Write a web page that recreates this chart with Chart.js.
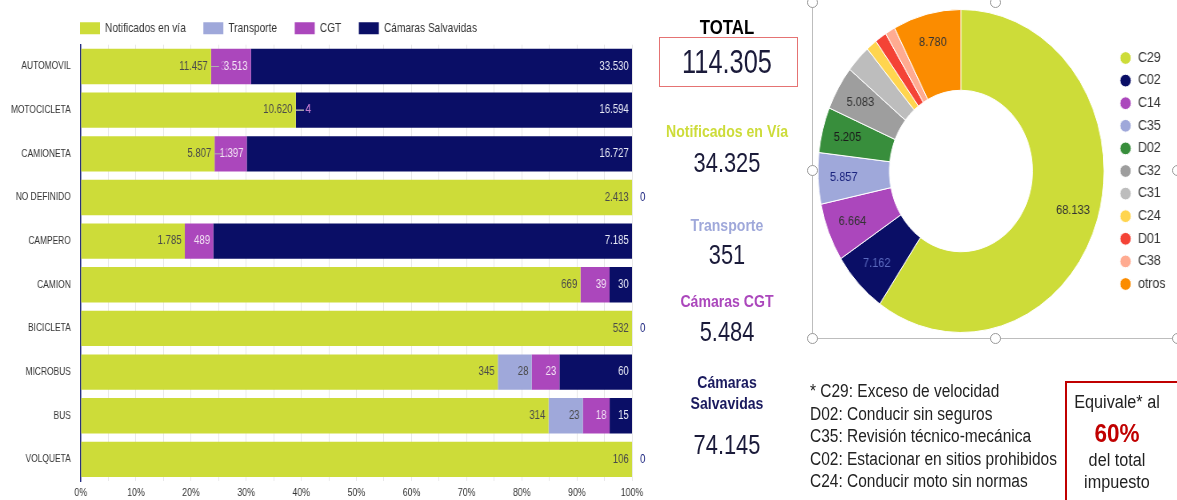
<!DOCTYPE html>
<html>
<head>
<meta charset="utf-8">
<script src="https://cdn.jsdelivr.net/npm/chart.js@4.4.1/dist/chart.umd.min.js"></script>
<style>
  body { margin: 0; width: 1177px; height: 500px; overflow: hidden; background: #fff; position: relative;
         font-family: "Liberation Sans", Arial, sans-serif; }
  #barWrap { position: absolute; left: 0; top: 0; width: 812px; height: 500px; transform: scaleX(0.8); transform-origin: 0 0; }
  #donutWrap { position: absolute; left: 808px; top: 0; width: 420px; height: 345px; transform: scaleX(0.886); transform-origin: 0 0; }
  .mid { position: absolute; left: 627px; width: 200px; text-align: center; white-space: nowrap; }
  .lbl { font-size: 16px; font-weight: bold; line-height: 18px; transform: scaleX(0.88); }
  .num { font-size: 28px; line-height: 32px; color: #1b1b3a; transform: scaleX(0.78); }
  .frame { position: absolute; background: #bdbdbd; }
  .handle { position: absolute; width: 9px; height: 9px; border: 1px solid #999; border-radius: 50%; background: #fff; }
  #notes { position: absolute; left: 810px; top: 380px; font-size: 18px; line-height: 22.5px; color: #222;
           transform: scaleX(0.86); transform-origin: 0 0; white-space: nowrap; }
  #equiv { position: absolute; left: 1065px; top: 381px; width: 120px; height: 130px; box-sizing: border-box;
           border: 2px solid #c00000; }
  .eq { position: absolute; left: 1057px; width: 120px; text-align: center; font-size: 18px; line-height: 22px;
        color: #222; transform: scaleX(0.9); white-space: nowrap; }
</style>
</head>
<body>
<div id="barWrap"><canvas id="cBar" width="812" height="500"></canvas></div>

<div class="mid" style="top:15px;font-size:21px;font-weight:bold;line-height:24px;transform:scaleX(0.8);color:#000">TOTAL</div>
<div style="position:absolute;left:659px;top:37px;width:139px;height:50px;box-sizing:border-box;border:1px solid #e57373"></div>
<div class="mid" style="top:43px;font-size:33px;line-height:38px;color:#1b1b3a;transform:scaleX(0.77)">114.305</div>
<div class="mid lbl" style="top:123px;color:#cddc39">Notificados en Vía</div>
<div class="mid num" style="top:147px">34.325</div>
<div class="mid lbl" style="top:217px;color:#9fa8da">Transporte</div>
<div class="mid num" style="top:239px">351</div>
<div class="mid lbl" style="top:293px;color:#ab47bc">Cámaras CGT</div>
<div class="mid num" style="top:316px">5.484</div>
<div class="mid lbl" style="top:372px;line-height:21px;color:#1a1a5e">Cámaras<br>Salvavidas</div>
<div class="mid num" style="top:429px">74.145</div>

<div class="frame" style="left:812px;top:0;width:1px;height:339px"></div>
<div class="frame" style="left:812px;top:338px;width:365px;height:1px"></div>
<div id="donutWrap"><canvas id="cDonut" width="420" height="345"></canvas></div>
<div class="handle" style="left:807px;top:-3px"></div>
<div class="handle" style="left:990px;top:-3px"></div>
<div class="handle" style="left:807px;top:165px"></div>
<div class="handle" style="left:1172px;top:165px"></div>
<div class="handle" style="left:807px;top:333px"></div>
<div class="handle" style="left:990px;top:333px"></div>
<div class="handle" style="left:1172px;top:333px"></div>

<div id="notes">* C29: Exceso de velocidad<br>D02: Conducir sin seguros<br>C35: Revisión técnico-mecánica<br>C02: Estacionar en sitios prohibidos<br>C24: Conducir moto sin normas</div>
<div id="equiv"></div>
<div class="eq" style="top:391px">Equivale* al</div>
<div class="eq" style="top:418px;font-size:25px;line-height:30px;font-weight:bold;color:#c00000">60%</div>
<div class="eq" style="top:449px">del total</div>
<div class="eq" style="top:471px">impuesto</div>

<script>
// ---- bar chart data (counts per vehicle type) ----
const categories = ['AUTOMOVIL', 'MOTOCICLETA', 'CAMIONETA', 'NO DEFINIDO', 'CAMPERO', 'CAMION', 'BICICLETA', 'MICROBUS', 'BUS', 'VOLQUETA'];
const notificados = [11457, 10620, 5807, 2413, 1785, 669, 532, 345, 314, 106];
const transporte = [3, 4, 1, 0, 0, 0, 0, 28, 23, 0];
const cgt = [3513, 4, 1397, 0, 489, 39, 0, 23, 18, 0];
const salvavidas = [33530, 16594, 16727, 0, 7185, 30, 0, 60, 15, 0];
const seriesNames = ['Notificados en vía', 'Transporte', 'CGT', 'Cámaras Salvavidas'];

// ---- doughnut data (infractions by code) ----
const codes = ['C29', 'C02', 'C14', 'C35', 'D02', 'C32', 'C31', 'C24', 'D01', 'C38', 'otros'];
const codeValues = [68133, 7162, 6664, 5857, 5205, 5083, 3221, 1400, 1500, 1300, 8780];

const FONT = '"Liberation Sans", Arial, sans-serif';
const seriesColors = ['#cddc39', '#9fa8da', '#ab47bc', '#0a0e66'];
const labelColors = ['#4a4a4a', '#4a4a4a', '#f3e5f5', '#e8eaf6'];
const codeColors = ['#cddc39', '#0a0e66', '#ab47bc', '#9fa8da', '#388e3c', '#9e9e9e', '#bdbdbd', '#ffd54f', '#f44336', '#ffab91', '#fb8c00'];
const codeLabelColors = ['#333', '#5c6bc0', '#333', '#1a237e', '#1b1b1b', '#333', '#333', '#333', '#333', '#333', '#333'];

const fmt = v => String(v).replace(/\B(?=(\d{3})+(?!\d))/g, '.');

// ===== stacked 100% bars =====
const series = [notificados, transporte, cgt, salvavidas];
const rowTotals = categories.map((_, i) => series.reduce((s, arr) => s + arr[i], 0));

const barLabels = {
    id: 'barLabels',
    afterLayout(chart) {
        // legend starts at the plot's left edge, not the canvas edge
        chart.legend.left += 78;
        chart.legend.right += 78;
    },
    afterDatasetsDraw(chart) {
        const ctx = chart.ctx;
        ctx.save();
        ctx.font = '12px ' + FONT;
        ctx.textBaseline = 'middle';
        const n = chart.data.datasets.length;
        chart.data.datasets.forEach((ds, di) => {
            chart.getDatasetMeta(di).data.forEach((bar, i) => {
                const v = ds.counts[i];
                const txt = fmt(v);
                const w = ctx.measureText(txt).width;
                if (v === 0) {
                    if (di !== n - 1) return;
                    ctx.fillStyle = '#1a237e';
                    ctx.textAlign = 'left';
                    ctx.fillText(txt, bar.x + 10, bar.y);
                    return;
                }
                if (bar.x - bar.base >= w + 8) {
                    ctx.fillStyle = labelColors[di];
                    ctx.textAlign = 'right';
                    ctx.fillText(txt, bar.x - 4, bar.y);
                } else {
                    // tiny segment: short leader line and label beside it
                    ctx.strokeStyle = '#b0b0b0';
                    ctx.lineWidth = 1;
                    ctx.beginPath();
                    ctx.moveTo(bar.x, bar.y);
                    ctx.lineTo(bar.x + 10, bar.y);
                    ctx.stroke();
                    ctx.fillStyle = '#c27bd0';
                    ctx.textAlign = 'left';
                    ctx.fillText(txt, bar.x + 12, bar.y);
                }
            });
        });
        ctx.restore();
    }
};

new Chart(document.getElementById('cBar').getContext('2d'), {
    type: 'bar',
    data: {
        labels: categories,
        datasets: series.map((arr, di) => ({
            label: seriesNames[di],
            data: arr.map((v, i) => v / rowTotals[i] * 100),
            counts: arr,
            backgroundColor: seriesColors[di],
            borderWidth: 0,
            barPercentage: 0.81,
            categoryPercentage: 1
        }))
    },
    options: {
        indexAxis: 'y',
        responsive: false,
        animation: false,
        layout: { padding: { left: 0, right: 22, top: 0, bottom: 0 } },
        plugins: {
            legend: {
                position: 'top', align: 'start',
                labels: { boxWidth: 25, boxHeight: 12, padding: 22, color: '#333', font: { size: 12.7, family: FONT } }
            },
            tooltip: { enabled: false }
        },
        scales: {
            x: {
                stacked: true, min: 0, max: 100,
                grid: { color: '#e6e6e6', drawTicks: false },
                border: { display: false },
                ticks: { stepSize: 5, autoSkip: false, maxRotation: 0, padding: 5, color: '#333',
                         font: { size: 11, family: FONT }, callback: v => v % 10 === 0 ? v + '%' : '' },
                afterFit: s => { s.height = 17; }
            },
            y: {
                stacked: true,
                grid: { display: false, drawTicks: false },
                border: { color: '#1a237e', width: 1.5 },
                ticks: { padding: 12.5, color: '#333', font: { size: 10.5, family: FONT } },
                afterFit: s => { s.width = 101; }
            }
        }
    },
    plugins: [barLabels]
});

// ===== doughnut by code =====
const donutLabels = {
    id: 'donutLabels',
    afterDatasetsDraw(chart) {
        const ctx = chart.ctx;
        ctx.save();
        ctx.font = '12.5px ' + FONT;
        ctx.textAlign = 'center';
        ctx.textBaseline = 'middle';
        chart.getDatasetMeta(0).data.forEach((arc, i) => {
            if (codeValues[i] < 4000) return;
            const a = arc.getProps(['x', 'y', 'startAngle', 'endAngle', 'innerRadius', 'outerRadius']);
            const mid = (a.startAngle + a.endAngle) / 2;
            const r = a.innerRadius + 0.64 * (a.outerRadius - a.innerRadius);
            ctx.fillStyle = codeLabelColors[i];
            ctx.fillText(fmt(codeValues[i]), a.x + Math.cos(mid) * r, a.y + Math.sin(mid) * r);
        });
        ctx.restore();
    }
};

new Chart(document.getElementById('cDonut').getContext('2d'), {
    type: 'doughnut',
    data: {
        labels: codes,
        datasets: [{ data: codeValues, backgroundColor: codeColors, borderColor: '#fff', borderWidth: 1 }]
    },
    options: {
        responsive: false,
        animation: false,
        cutout: '50%',
        layout: { padding: { left: 2.5, right: 6.5, top: 9, bottom: 12 } },
        plugins: {
            legend: {
                position: 'right',
                labels: { usePointStyle: true, pointStyle: 'circle', boxWidth: 14, boxHeight: 9, padding: 8.6,
                          color: '#333', font: { size: 14, family: FONT } }
            },
            tooltip: { enabled: false }
        }
    },
    plugins: [donutLabels]
});
</script>
</body>
</html>
